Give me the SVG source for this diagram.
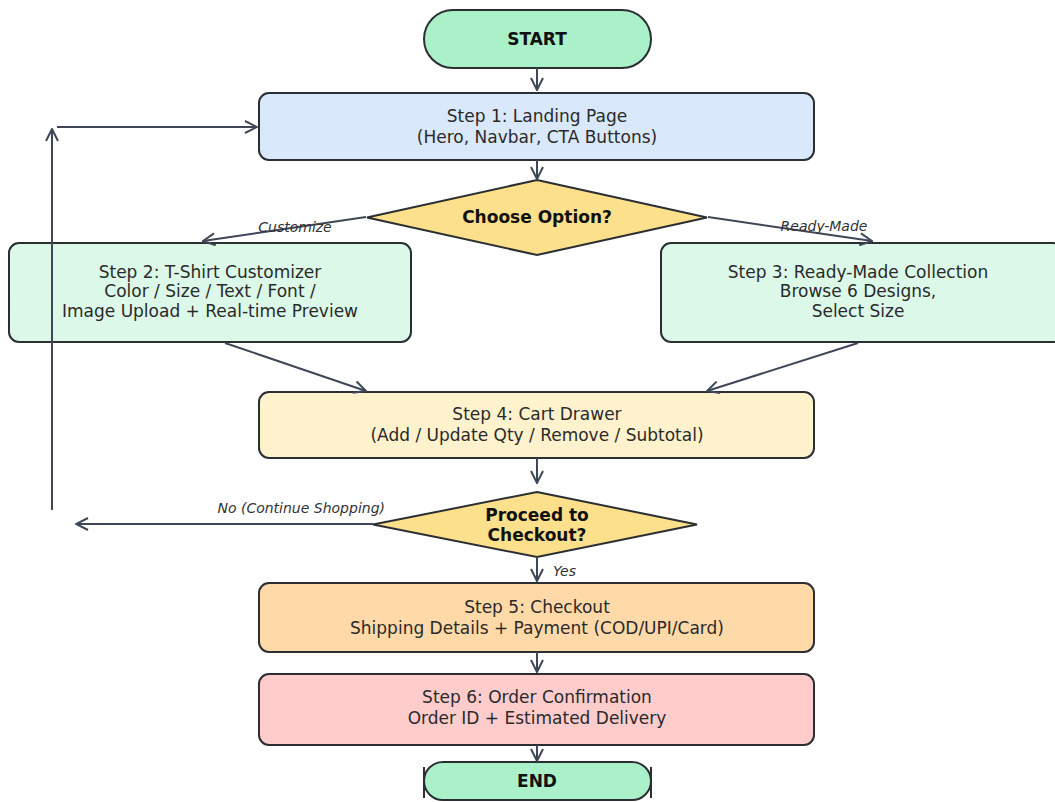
<svg xmlns="http://www.w3.org/2000/svg" width="1055" height="802" viewBox="0 0 1055 802">
<defs>
<style>
.box{stroke:#2b2f33;stroke-width:2}
.t{font-family:"DejaVu Sans",sans-serif;font-size:17px;fill:#2a2a2a;text-anchor:middle}
.b{font-family:"DejaVu Sans",sans-serif;font-size:17px;font-weight:bold;fill:#111;text-anchor:middle}
.lbl{font-family:"DejaVu Sans",sans-serif;font-size:14px;font-style:italic;fill:#333}
.c{stroke:#3f4757;stroke-width:2;fill:none;marker-end:url(#ah)}
</style>
<marker id="ah" viewBox="0 0 14 14" refX="13" refY="7" markerWidth="14" markerHeight="14" markerUnits="userSpaceOnUse" orient="auto">
<path d="M1,1 L13,7 L1,13" fill="none" stroke="#3f4757" stroke-width="2"/>
</marker>
</defs>
<rect width="1055" height="802" fill="#ffffff"/>

<g id="start">
<rect class="box" x="424" y="10" width="227" height="58" rx="29" fill="#aaf0c9"/>
<text class="b" x="537" y="45">START</text>
</g>

<g id="step1">
<rect class="box" x="259" y="93" width="555" height="67" rx="10" fill="#dae8fc"/>
<text class="t" x="537" y="122">Step 1: Landing Page</text>
<text class="t" x="537" y="143">(Hero, Navbar, CTA Buttons)</text>
</g>

<g id="choose">
<polygon class="box" points="537,180 707,217.5 537,255 367,217.5" fill="#fde08b"/>
<text class="b" x="537" y="223">Choose Option?</text>
</g>

<g id="step2">
<rect class="box" x="9" y="243" width="402" height="99" rx="10" fill="#dcf8e8"/>
<text class="t" x="210" y="278">Step 2: T-Shirt Customizer</text>
<text class="t" x="210" y="297">Color / Size / Text / Font /</text>
<text class="t" x="210" y="317">Image Upload + Real-time Preview</text>
</g>

<g id="step3">
<rect class="box" x="661" y="243" width="402" height="99" rx="10" fill="#dcf8e8"/>
<text class="t" x="858" y="278">Step 3: Ready-Made Collection</text>
<text class="t" x="858" y="297">Browse 6 Designs,</text>
<text class="t" x="858" y="317">Select Size</text>
</g>

<g id="step4">
<rect class="box" x="259" y="392" width="555" height="66" rx="10" fill="#fff2cc"/>
<text class="t" x="537" y="420">Step 4: Cart Drawer</text>
<text class="t" x="537" y="441">(Add / Update Qty / Remove / Subtotal)</text>
</g>

<g id="checkout-decision">
<polygon class="box" points="537,492 697,524.5 537,557 373,524.5" fill="#fde08b"/>
<text class="b" x="537" y="521">Proceed to</text>
<text class="b" x="537" y="541">Checkout?</text>
</g>

<g id="step5">
<rect class="box" x="259" y="583" width="555" height="69" rx="10" fill="#ffd9a8"/>
<text class="t" x="537" y="613">Step 5: Checkout</text>
<text class="t" x="537" y="634">Shipping Details + Payment (COD/UPI/Card)</text>
</g>

<g id="step6">
<rect class="box" x="259" y="674" width="555" height="71" rx="10" fill="#ffcccc"/>
<text class="t" x="537" y="703">Step 6: Order Confirmation</text>
<text class="t" x="537" y="724">Order ID + Estimated Delivery</text>
</g>

<g id="end">
<rect class="box" x="424" y="762" width="227" height="38" rx="19" fill="#aaf0c9"/>
<line class="box" x1="424" y1="767" x2="424" y2="798"/>
<line class="box" x1="651" y1="767" x2="651" y2="798"/>
<text class="b" x="537" y="787">END</text>
</g>

<g id="connectors">
<line class="c" x1="537" y1="68" x2="537" y2="90"/>
<line class="c" x1="537" y1="160" x2="537" y2="179"/>
<line class="c" x1="366" y1="217" x2="203" y2="241"/>
<line class="c" x1="708" y1="217" x2="872" y2="241"/>
<line class="c" x1="225" y1="343" x2="366" y2="391"/>
<line class="c" x1="858" y1="343" x2="707" y2="391"/>
<line class="c" x1="537" y1="458" x2="537" y2="483"/>
<line class="c" x1="373" y1="524" x2="76" y2="524"/>
<line class="c" x1="52" y1="510" x2="52" y2="129"/>
<line class="c" x1="57" y1="127" x2="257" y2="127"/>
<line class="c" x1="537" y1="557" x2="537" y2="581"/>
<line class="c" x1="537" y1="652" x2="537" y2="672"/>
<line class="c" x1="537" y1="745" x2="537" y2="761"/>
<text class="lbl" x="295" y="232" text-anchor="middle">Customize</text>
<text class="lbl" x="824" y="231" text-anchor="middle">Ready-Made</text>
<text class="lbl" x="385" y="513" text-anchor="end">No (Continue Shopping)</text>
<text class="lbl" x="553" y="576" font-size="13px">Yes</text>
</g>
</svg>
